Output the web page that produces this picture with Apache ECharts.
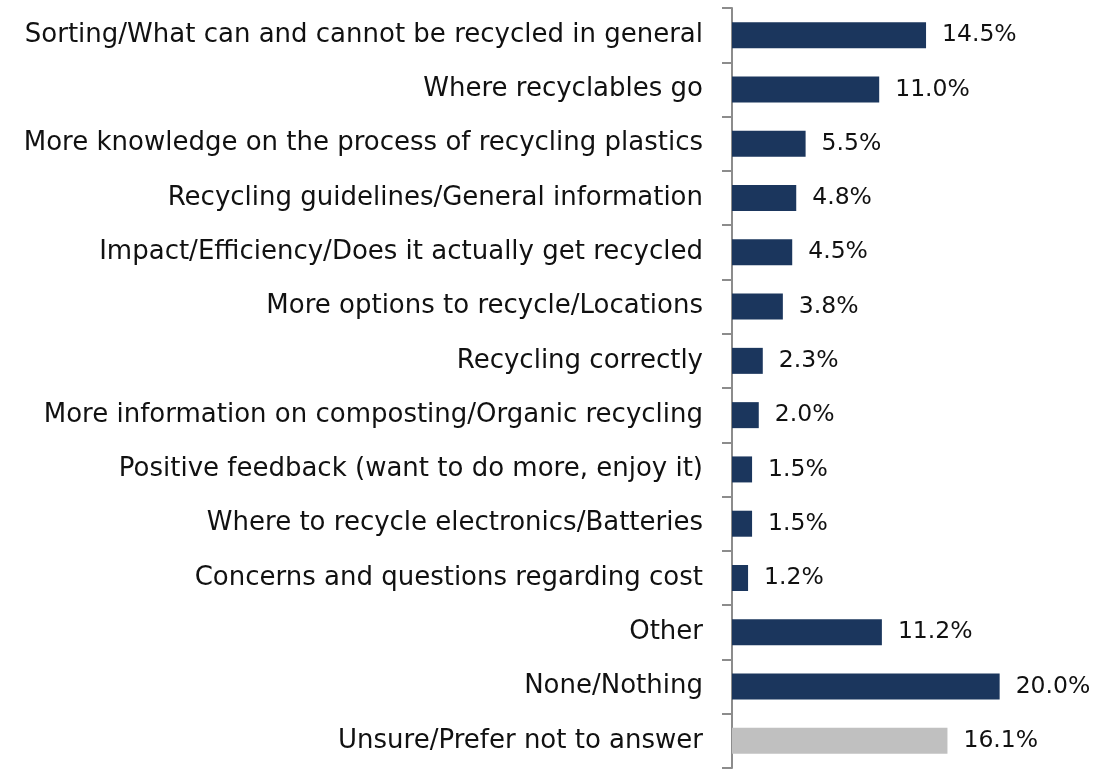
<!DOCTYPE html>
<html>
<head>
<meta charset="utf-8">
<script src="https://cdn.jsdelivr.net/npm/echarts@6/dist/echarts.min.js"></script>
<style>
  html, body { margin: 0; padding: 0; background: #fff; }
  #chart { width: 1096px; height: 770px; }
</style>
</head>
<body>
<div id="chart"></div>
<script>
// Survey responses: what people would like to know about recycling
const categories = [
  'Sorting/What can and cannot be recycled in general',
  'Where recyclables go',
  'More knowledge on the process of recycling plastics',
  'Recycling guidelines/General information',
  'Impact/Efficiency/Does it actually get recycled',
  'More options to recycle/Locations',
  'Recycling correctly',
  'More information on composting/Organic recycling',
  'Positive feedback (want to do more, enjoy it)',
  'Where to recycle electronics/Batteries',
  'Concerns and questions regarding cost',
  'Other',
  'None/Nothing',
  'Unsure/Prefer not to answer'
];
const shares = [14.5, 11.0, 5.5, 4.8, 4.5, 3.8, 2.3, 2.0, 1.5, 1.5, 1.2, 11.2, 20.0, 16.1];
// The last response is shown in a neutral grey
const neutralCategories = ['Unsure/Prefer not to answer'];

const NAVY = '#1b365d';
const GREY = '#c0c0c0';
const FONT = '"DejaVu Sans", Verdana, sans-serif';

const chart = echarts.init(document.getElementById('chart'), null, { renderer: 'canvas' });

chart.setOption({
  animation: false,
  backgroundColor: '#fff',
  grid: { left: 732, right: 0, top: 8, bottom: 2, containLabel: false },
  xAxis: {
    type: 'value',
    min: 0,
    max: 27.2,
    show: false
  },
  yAxis: {
    type: 'category',
    inverse: true,
    data: categories,
    axisLine: { show: true, lineStyle: { color: '#8c8c8c', width: 2 } },
    axisTick: { show: true, length: 10, lineStyle: { color: '#8c8c8c', width: 2 } },
    axisLabel: {
      margin: 29,
      fontFamily: FONT,
      fontSize: 26,
      color: '#111'
    },
    splitLine: { show: false }
  },
  series: [{
    type: 'bar',
    barWidth: 26,
    data: shares.map((v, i) => ({
      value: v,
      itemStyle: { color: neutralCategories.includes(categories[i]) ? GREY : NAVY }
    })),
    label: {
      show: true,
      position: 'right',
      distance: 16,
      fontFamily: FONT,
      fontSize: 23.5,
      color: '#111',
      formatter: p => p.value.toFixed(1) + '%'
    }
  }]
});
</script>
</body>
</html>
